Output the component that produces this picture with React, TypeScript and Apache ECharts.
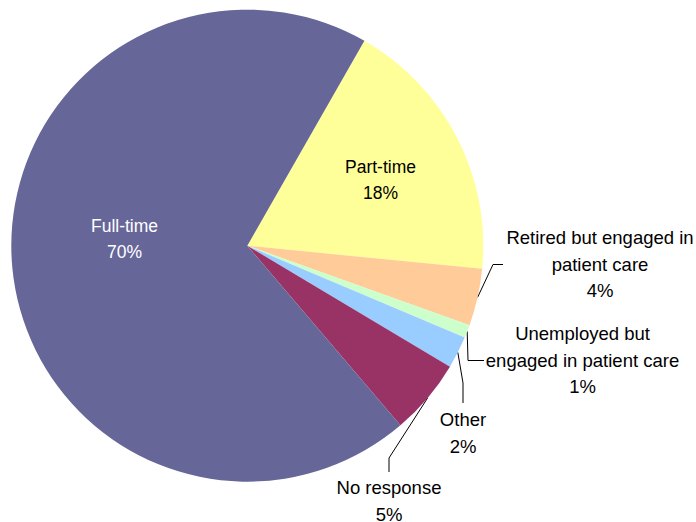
import React, { useEffect, useRef } from "react";
import * as echarts from "echarts";

// Categories in clockwise order starting at the top (Part-time)
const categories = [
  "Part-time",
  "Retired but engaged in\npatient care",
  "Unemployed but\nengaged in patient care",
  "Other",
  "No response",
  "Full-time",
];
const values = [18.3, 3.9, 0.9, 2.2, 5.2, 69.5];
const colors = ["#FFFF99", "#FFCC99", "#CCFFCC", "#99CCFF", "#993366", "#666699"];
const insideLabel = [true, false, false, false, false, true];
const labelColors = ["#000000", "#000000", "#000000", "#000000", "#000000", "#FFFFFF"];

// label placement (pixel layout, not data)
const labelPos: Array<{ x: number; y: number; line?: number[][] }> = [
  { x: 380.5, y: 180 },
  { x: 600, y: 264, line: [[493, 264.5], [503, 264.5]] },
  { x: 582.5, y: 360, line: [[468, 360.5], [484, 360.5]] },
  { x: 463, y: 433, line: [[463, 383], [463, 403]] },
  { x: 389, y: 501, line: [[389, 458], [389, 472]] },
  { x: 124.5, y: 239 },
];

export default function App() {
  const ref = useRef<HTMLDivElement>(null);
  useEffect(() => {
    document.body.style.margin = "0";
    const chart = echarts.init(ref.current!, null, { renderer: "svg" });
    const data = categories.map((name, i) => ({
      name,
      value: values[i],
      itemStyle: { color: colors[i] },
      label: {
        position: insideLabel[i] ? "inside" : "outside",
        color: labelColors[i],
        fontSize: insideLabel[i] ? 17.5 : 18.5,
        lineHeight: insideLabel[i] ? 26 : 26.5,
      },
      labelLine: { show: !insideLabel[i] },
    }));
    chart.setOption({
      animation: false,
      backgroundColor: "#FFFFFF",
      series: [
        {
          type: "pie",
          center: [247.3, 245.7],
          radius: 236,
          startAngle: 60.25,
          clockwise: true,
          avoidLabelOverlap: false,
          data,
          label: {
            show: true,
            fontFamily: "Liberation Sans, Arial, sans-serif",
            fontSize: 17.5,
            lineHeight: 26,
            align: "center",
            formatter: (p: any) => `${p.name}\n${Math.round(p.value)}%`,
          },
          labelLine: {
            show: true,
            lineStyle: { color: "#000000", width: 1 },
          },
          itemStyle: { borderWidth: 0 },
          emphasis: { disabled: true },
          labelLayout: (params: any) => {
            const pos = labelPos[params.dataIndex];
            if (!pos) return {};
            const out: any = {
              x: pos.x,
              y: pos.y,
              align: "center",
              verticalAlign: "middle",
            };
            if (pos.line && params.labelLinePoints) {
              out.labelLinePoints = [params.labelLinePoints[0], pos.line[0], pos.line[1]];
            }
            return out;
          },
        },
      ],
    });
    return () => chart.dispose();
  }, []);
  return <div ref={ref} style={{ width: 696, height: 522 }} />;
}
